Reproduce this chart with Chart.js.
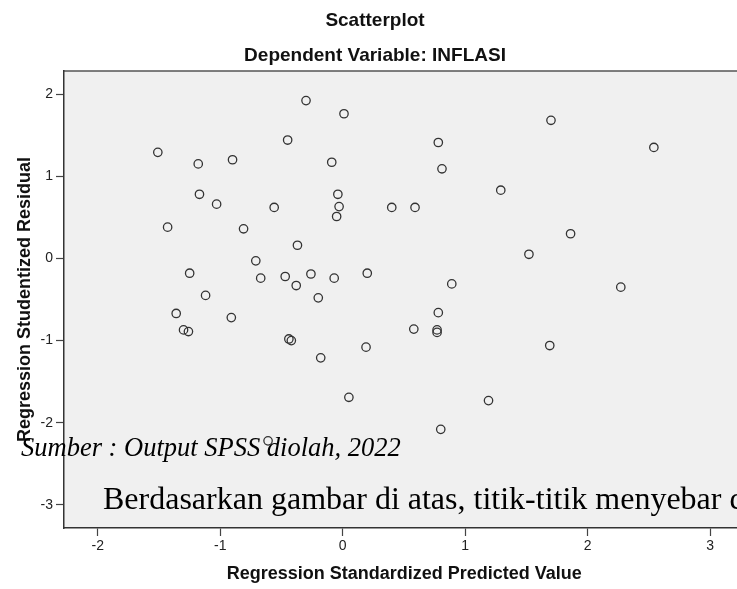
<!DOCTYPE html>
<html>
<head>
<meta charset="utf-8">
<script src="https://cdn.jsdelivr.net/npm/chart.js@4.4.1/dist/chart.umd.min.js"></script>
<style>
  html, body { margin: 0; padding: 0; background: #fff; overflow: hidden; }
  #wrap { position: relative; width: 737px; height: 589px; overflow: hidden; }
  #chart { position: absolute; left: 0; top: 0; }
  .note { position: absolute; font-family: 'Liberation Serif', 'Times New Roman', serif; color: #000; white-space: nowrap; }
  #source { left: 21px; top: 434px; font-size: 26.5px; line-height: 26.5px; font-style: italic; }
  #para { left: 103px; top: 482px; font-size: 32px; line-height: 32px; }
</style>
</head>
<body>
<div id="wrap">
  <canvas id="chart" width="750" height="589"></canvas>
  <div class="note" id="source">Sumber : Output SPSS diolah, 2022</div>
  <div class="note" id="para">Berdasarkan gambar di atas, titik-titik menyebar di</div>
</div>
<script>
// Regression Standardized Predicted Value (x) and Studentized Residual (y)
const predicted = [
    -1.51, -0.30, 0.01, -0.45, -1.18, -0.90, -0.09, -1.17, -1.03, -0.04,
    -0.03, -0.05, -0.56, -1.43, -0.81, -0.37, -0.71, -1.25, -0.67, -0.47,
    -0.26, -0.38, -0.07, 0.20, -1.12, -0.20, -1.36, -0.91, -1.30, -1.26,
    -0.44, -0.42, -0.18, 0.19, 0.05, -0.61, 1.70, 0.78, 2.54, 0.81,
    1.29, 0.40, 0.59, 1.86, 1.52, 0.89, 2.27, 0.78, 0.58, 0.77,
    0.77, 1.69, 1.19, 0.80
];
const residual = [
    1.29, 1.92, 1.76, 1.44, 1.15, 1.20, 1.17, 0.78, 0.66, 0.78,
    0.63, 0.51, 0.62, 0.38, 0.36, 0.16, -0.03, -0.18, -0.24, -0.22,
    -0.19, -0.33, -0.24, -0.18, -0.45, -0.48, -0.67, -0.72, -0.87, -0.89,
    -0.98, -1.00, -1.21, -1.08, -1.69, -2.22, 1.68, 1.41, 1.35, 1.09,
    0.83, 0.62, 0.62, 0.30, 0.05, -0.31, -0.35, -0.66, -0.86, -0.87,
    -0.90, -1.06, -1.73, -2.08
];
const xTicks = [-2, -1, 0, 1, 2, 3];
const yTicks = [-3, -2, -1, 0, 1, 2];

const sansFont = 'Liberation Sans, Arial, sans-serif';

// light grey plot area with a frame line on top
const plotFrame = {
    id: 'plotFrame',
    beforeDraw(chart) {
        const { ctx, chartArea: a } = chart;
        ctx.save();
        ctx.fillStyle = '#f0f0f0';
        ctx.fillRect(a.left, a.top, a.right - a.left, a.bottom - a.top);
        ctx.strokeStyle = '#555';
        ctx.lineWidth = 1.5;
        ctx.beginPath();
        ctx.moveTo(a.left, a.top);
        ctx.lineTo(a.right, a.top);
        ctx.stroke();
        ctx.restore();
    }
};

new Chart(document.getElementById('chart'), {
    type: 'scatter',
    data: {
        datasets: [{
            data: predicted.map((x, i) => ({ x: x, y: residual[i] })),
            pointStyle: 'circle',
            pointRadius: 4.2,
            borderWidth: 1.3,
            borderColor: '#333',
            backgroundColor: 'rgba(0, 0, 0, 0)'
        }]
    },
    options: {
        responsive: false,
        animation: false,
        events: [],
        layout: { padding: 0 },
        plugins: {
            legend: { display: false },
            tooltip: { enabled: false },
            title: {
                display: true,
                text: 'Scatterplot',
                color: '#111',
                font: { family: sansFont, size: 19, weight: 'bold' },
                padding: { top: 9, bottom: 0 }
            },
            subtitle: {
                display: true,
                text: 'Dependent Variable: INFLASI',
                color: '#111',
                font: { family: sansFont, size: 19, weight: 'bold' },
                padding: { top: 12.8, bottom: 3.6 }
            }
        },
        scales: {
            x: {
                type: 'linear',
                min: -2.276,
                max: 3.28,
                afterBuildTicks: s => { s.ticks = xTicks.map(v => ({ value: v })); },
                afterFit: s => { s.height = 61; },
                grid: { drawOnChartArea: false, tickLength: 8, color: '#444', tickWidth: 1.2 },
                border: { color: '#333', width: 1.5 },
                ticks: {
                    color: '#222',
                    padding: 2,
                    font: { family: sansFont, size: 14 },
                    callback: v => String(v)
                },
                title: {
                    display: true,
                    text: 'Regression Standardized Predicted Value',
                    color: '#111',
                    font: { family: sansFont, size: 18, weight: 'bold' },
                    padding: { top: 0, bottom: 4 }
                }
            },
            y: {
                type: 'linear',
                min: -3.28,
                max: 2.28,
                afterBuildTicks: s => { s.ticks = yTicks.map(v => ({ value: v })); },
                afterFit: s => { s.width = 64; },
                grid: { drawOnChartArea: false, tickLength: 8, color: '#444', tickWidth: 1.2 },
                border: { color: '#333', width: 1.5 },
                ticks: {
                    color: '#222',
                    padding: 3,
                    font: { family: sansFont, size: 14 },
                    callback: v => String(v)
                },
                title: {
                    display: true,
                    text: 'Regression Studentized Residual',
                    color: '#111',
                    font: { family: sansFont, size: 18, weight: 'bold' },
                    padding: { top: 14, bottom: 0 }
                }
            }
        }
    },
    plugins: [plotFrame]
});
</script>
</body>
</html>
